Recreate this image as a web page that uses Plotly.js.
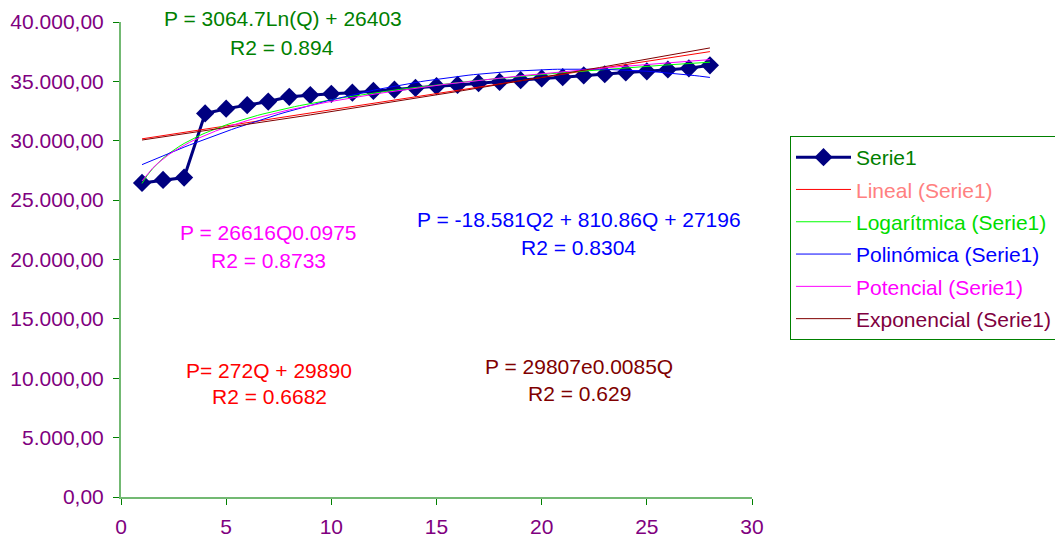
<!DOCTYPE html>
<html>
<head>
<meta charset="utf-8">
<script src="https://cdn.plot.ly/plotly-3.0.1.min.js"></script>
<style>html,body{margin:0;padding:0;background:#fff;}#chart{width:1055px;height:538px;}</style>
</head>
<body>
<div id="chart"></div>
<script>
// Data
const Q = [1,2,3,4,5,6,7,8,9,10,11,12,13,14,15,16,17,18,19,20,21,22,23,24,25,26,27,28];
const P = [26450,26700,26900,32300,32700,33000,33300,33700,33850,33950,34050,34200,34300,34450,34600,34700,34850,34950,35100,35250,35350,35500,35600,35750,35850,36000,36100,36350];

// Trendline coefficients, as displayed on the chart
const linCoef = [272, 29890];          // P = a*Q + b
const logCoef = [3064.7, 26403];       // P = a*ln(Q) + b
const polyCoef = [-18.581, 810.86, 27196]; // P = a*Q^2 + b*Q + c
const powCoef = [26616, 0.0975];       // P = a*Q^b
const expCoef = [29807, 0.0085];       // P = a*e^(bQ)

const seriesNames = ['Serie1','Lineal (Serie1)','Logarítmica (Serie1)','Polinómica (Serie1)','Potencial (Serie1)','Exponencial (Serie1)'];
const eqTexts = [
  ['P = 3064.7Ln(Q) + 26403','R2 = 0.894'],
  ['P = 26616Q0.0975','R2 = 0.8733'],
  ['P = -18.581Q2 + 810.86Q + 27196','R2 = 0.8304'],
  ['P= 272Q + 29890','R2 = 0.6682'],
  ['P = 29807e0.0085Q','R2 = 0.629']
];
const yTicks = [0,5000,10000,15000,20000,25000,30000,35000,40000];
const xTicks = [0,5,10,15,20,25,30];

// trendline evaluation grid over the data's Q range
const qMin = Math.min(...Q), qMax = Math.max(...Q);
const grid = [];
for (let i = 0; i <= 108; i++) grid.push(qMin + (qMax - qMin) * i / 108);

const fLin = q => linCoef[0]*q + linCoef[1];
const fLog = q => logCoef[0]*Math.log(q) + logCoef[1];
const fPoly = q => polyCoef[0]*q*q + polyCoef[1]*q + polyCoef[2];
const fPow = q => powCoef[0]*Math.pow(q, powCoef[1]);
const fExp = q => expCoef[0]*Math.exp(expCoef[1]*q);

const FONT = '"Liberation Sans", Arial, sans-serif';
const FS = 21;
const trendStyles = [
  {f: fLin, color:'#FF0000', text:'#FF8080'},
  {f: fLog, color:'#00FF00', text:'#00DD00'},
  {f: fPoly, color:'#0000FF', text:'#0000FF'},
  {f: fPow, color:'#FF00FF', text:'#FF00FF'},
  {f: fExp, color:'#800000', text:'#800040'}
];

const traces = [{
  x: Q, y: P, type:'scatter', mode:'lines+markers',
  name: seriesNames[0],
  line:{color:'#000080', width:3},
  marker:{symbol:'diamond', size:14, color:'#000080'},
  legendgroup:'g0'
}];
trendStyles.forEach((s, i) => {
  traces.push({
    x: grid, y: grid.map(s.f), type:'scatter', mode:'lines',
    name: '<span style="color:' + s.text + '">' + seriesNames[i+1] + '</span>',
    line:{color:s.color, width:1},
    legendgroup:'g' + (i+1)
  });
});

// annotation placement (pixels in the 1055x538 frame)
const L = 121, T = 22, W = 631, H = 475;
const annPos = [
  {c:'#008000', p:[[283,19],[282,47]]},
  {c:'#FF00FF', p:[[268.5,232],[268.5,260]]},
  {c:'#0000FF', p:[[579,219],[578.5,247]]},
  {c:'#FF0000', p:[[268.5,370],[269,396]]},
  {c:'#800000', p:[[579,366],[579.5,393]]}
];
const annotations = [];
annPos.forEach((a, i) => {
  a.p.forEach((pt, j) => {
    annotations.push({
      xref:'paper', yref:'paper',
      x:(pt[0]-L)/W, y:(T+H-pt[1])/H,
      xanchor:'center', yanchor:'middle',
      text: eqTexts[i][j], showarrow:false,
      font:{family:FONT, size:FS, color:a.c}
    });
  });
});

const layout = {
  width:1055, height:538,
  margin:{l:L, r:1055-L-W, t:T, b:538-T-H},
  paper_bgcolor:'#FFFFFF', plot_bgcolor:'#FFFFFF',
  separators:',.',
  font:{family:FONT, size:FS, color:'#800080'},
  showlegend:true,
  legend:{
    xref:'container', yref:'container',
    x:790/1055, y:(538-136)/538, xanchor:'left', yanchor:'top',
    bordercolor:'#008000', borderwidth:1, bgcolor:'#FFFFFF',
    font:{family:FONT, size:FS, color:'#008000'},
    traceorder:'grouped', tracegroupgap:2, itemwidth:55
  },
  xaxis:{
    range:[0,30], tickvals:xTicks, ticktext:xTicks.map(String),
    showgrid:false, zeroline:false, automargin:false,
    showline:true, linecolor:'rgba(0,128,0,0.55)', linewidth:2,
    ticks:'outside', ticklen:6, tickcolor:'#008000', tickwidth:1,
    tickfont:{family:FONT, size:FS, color:'#800080'},
    ticklabelstandoff:4, fixedrange:true
  },
  yaxis:{
    range:[0,40000], tickvals:yTicks, tickformat:',.2f',
    showgrid:false, zeroline:false, automargin:false,
    showline:true, linecolor:'rgba(0,128,0,0.55)', linewidth:2,
    ticks:'outside', ticklen:6, tickcolor:'#008000', tickwidth:1,
    tickfont:{family:FONT, size:FS, color:'#800080'},
    ticklabelstandoff:5, fixedrange:true
  },
  annotations: annotations
};

Plotly.newPlot('chart', traces, layout, {displayModeBar:false, staticPlot:true});
</script>
</body>
</html>
